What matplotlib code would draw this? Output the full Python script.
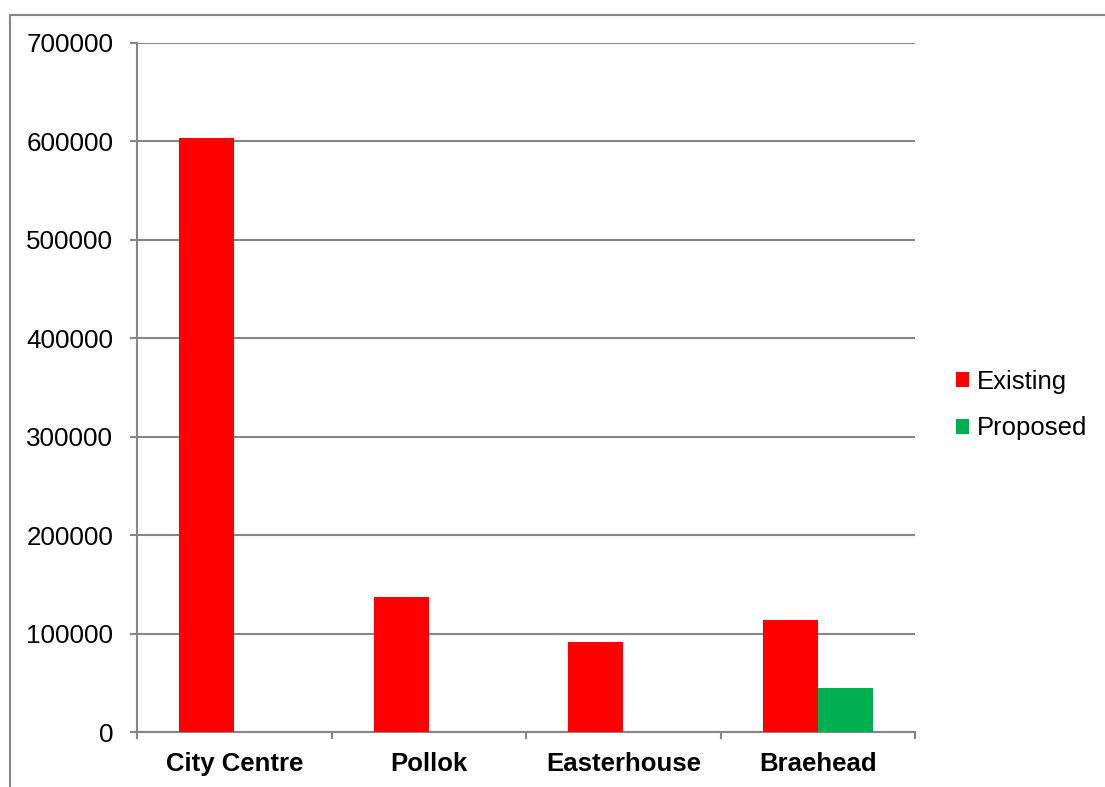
import matplotlib
matplotlib.use("Agg")
import matplotlib.pyplot as plt
from matplotlib.lines import Line2D
import numpy as np

categories = ["City Centre", "Pollok", "Easterhouse", "Braehead"]
existing = [603500, 137000, 91500, 113800]
proposed = [0, 0, 0, 44700]
series_names = ["Existing", "Proposed"]
yticks = [0, 100000, 200000, 300000, 400000, 500000, 600000, 700000]

plt.rcParams['font.family'] = ['Liberation Sans', 'DejaVu Sans']
W, H = 1105, 787
fig = plt.figure(figsize=(W / 100, H / 100), dpi=100)
ax = fig.add_axes([137 / W, 1 - 732 / H, (915 - 137) / W, (732 - 43) / H])

grey = "#868686"
x = np.arange(len(categories))
bw = 0.283
ax.bar(x - bw / 2, existing, bw, color="#FF0000", label=series_names[0], zorder=3)
ax.bar(x + bw / 2, proposed, bw, color="#00B050", label=series_names[1], zorder=3)

ax.set_xlim(-0.5, len(categories) - 0.5)
ax.set_ylim(0, 700000)
ax.set_yticks(yticks)
ax.set_yticklabels([str(v) for v in yticks])
ax.yaxis.grid(True, color=grey, linewidth=1.5, zorder=0)
ax.set_axisbelow(True)

ax.set_xticks(np.arange(len(categories) + 1) - 0.5)
ax.set_xticklabels([])
ax.set_xticks(x, minor=True)
ax.set_xticklabels(categories, minor=True, fontweight="bold", fontsize=18.5)
ax.tick_params(axis="x", which="minor", length=0, pad=14.5)
ax.tick_params(axis="x", which="major", length=5, width=1.5, color=grey, direction="out")
ax.tick_params(axis="y", length=5, width=1.5, color=grey, direction="out", labelsize=18.7, pad=12)

for s in ["top", "right"]:
    ax.spines[s].set_visible(False)
for s in ["left", "bottom"]:
    ax.spines[s].set_color(grey)
    ax.spines[s].set_linewidth(1.5)

leg = ax.legend(loc="center left", bbox_to_anchor=(956 / W, 1 - 405 / H),
                bbox_transform=fig.transFigure, frameon=False, fontsize=18.5,
                handlelength=0.52, handleheight=0.52, handletextpad=0.3,
                labelspacing=0.87, borderpad=0, borderaxespad=0)

fig.add_artist(Line2D([9.5 / W, 9.5 / W], [0, 1 - 14.5 / H], color=grey, linewidth=1.5,
                      transform=fig.transFigure))
fig.add_artist(Line2D([9.5 / W, 1], [1 - 14.5 / H, 1 - 14.5 / H], color=grey, linewidth=1.5,
                      transform=fig.transFigure))

fig.savefig("out.png", dpi=100, facecolor="white")
